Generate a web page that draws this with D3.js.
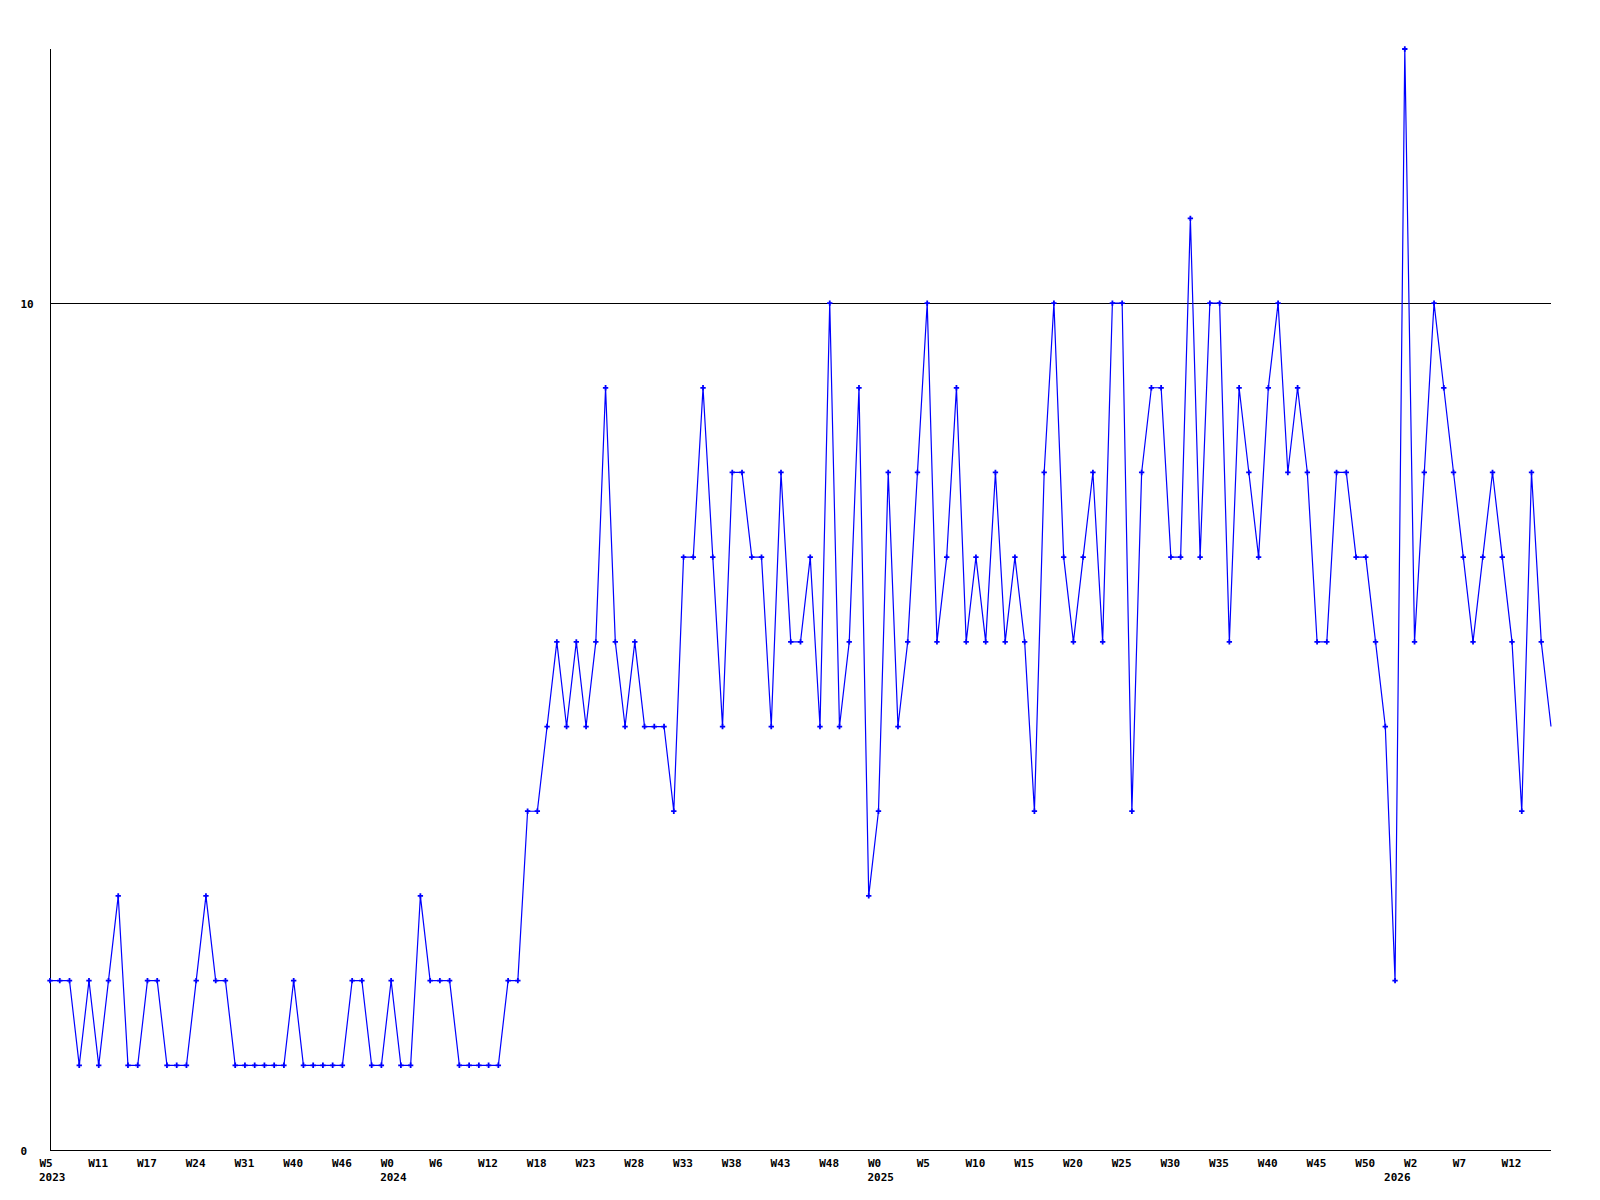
<!DOCTYPE html>
<html>
<head>
<meta charset="utf-8">
<script src="https://cdn.jsdelivr.net/npm/d3@7"></script>
<style>
  body { margin: 0; background: #ffffff; }
  text { font-family: "DejaVu Sans Mono", "Liberation Mono", monospace; font-weight: bold; font-size: 11px; fill: #000; }
</style>
</head>
<body>
<svg id="chart" width="1600" height="1200"></svg>
<script>
// ---- data ----
const values = [
  2,2,2,1,2,1,2,3,1,1,
  2,2,1,1,1,2,3,2,2,1,
  1,1,1,1,1,2,1,1,1,1,
  1,2,2,1,1,2,1,1,3,2,
  2,2,1,1,1,1,1,2,2,4,
  4,5,6,5,6,5,6,9,6,5,
  6,5,5,5,4,7,7,9,7,5,
  8,8,7,7,5,8,6,6,7,5,
  10,5,6,9,3,4,8,5,6,8,
  10,6,7,9,6,7,6,8,6,7,
  6,4,8,10,7,6,7,8,6,10,
  10,4,8,9,9,7,7,11,7,10,
  10,6,9,8,7,9,10,8,9,8,
  6,6,8,8,7,7,6,5,2,13,
  6,8,10,9,8,7,6,7,8,7,
  6,4,8,6,5
];
const tickIndices = [0,5,10,15,20,25,30,35,40,45,50,55,60,65,70,75,80,85,90,95,100,105,110,115,120,125,130,135,140,145,150];
const tickLabels = ["W5","W11","W17","W24","W31","W40","W46","W0","W6","W12","W18","W23","W28","W33","W38","W43","W48","W0","W5","W10","W15","W20","W25","W30","W35","W40","W45","W50","W2","W7","W12"];
const yearIndices = [0,35,85,138];
const yearLabels = ["2023","2024","2025","2026"];
const yTicks = [0,10];

// ---- layout ----
const svg = d3.select("#chart");
const plotLeft = 50, plotRight = 1551, plotTop = 49, plotBottom = 1150;

const x = d3.scaleLinear().domain([0, values.length - 1]).range([plotLeft, plotRight]);
const y = d3.scaleLinear().domain([0, 13]).range([plotBottom, plotTop]);

// gridline at 10
svg.append("g")
  .selectAll("line")
  .data(yTicks.filter(d => d > 0))
  .join("line")
  .attr("x1", plotLeft).attr("x2", plotRight)
  .attr("y1", d => Math.round(y(d)) + 0.5).attr("y2", d => Math.round(y(d)) + 0.5)
  .attr("stroke", "#000").attr("stroke-width", 1);

// x axis
const labelMap = new Map(tickIndices.map((d, i) => [d, tickLabels[i]]));
const xAxis = d3.axisBottom(x)
  .tickValues(tickIndices)
  .tickSize(0)
  .tickFormat(d => labelMap.get(d));
const gx = svg.append("g")
  .attr("transform", `translate(0,${plotBottom + 0.5})`)
  .call(xAxis);
gx.select(".domain").attr("stroke", "#000").attr("d", `M${plotLeft},0H${plotRight}`);
gx.selectAll(".tick text")
  .attr("text-anchor", "start")
  .attr("dx", -11)
  .attr("dy", 0)
  .attr("y", 16)
  .style("font-family", "DejaVu Sans Mono, monospace")
  .style("font-weight", "bold")
  .style("font-size", "11px")
  .attr("fill", "#000");

// year labels
svg.append("g")
  .selectAll("text")
  .data(yearIndices)
  .join("text")
  .attr("x", d => x(d) - 11)
  .attr("y", plotBottom + 31)
  .text((d, i) => yearLabels[i]);

// y axis
const yAxis = d3.axisLeft(y).tickValues(yTicks).tickSize(0).tickFormat(d3.format("d"));
const gy = svg.append("g")
  .attr("transform", `translate(${plotLeft + 0.5},0)`)
  .call(yAxis);
gy.select(".domain").attr("stroke", "#000").attr("d", `M0,${plotTop}V${plotBottom}`);
gy.selectAll(".tick text")
  .attr("text-anchor", "start")
  .attr("x", -30)
  .attr("dy", 4)
  .style("font-family", "DejaVu Sans Mono, monospace")
  .style("font-weight", "bold")
  .style("font-size", "11px")
  .attr("fill", "#000");

// data line
const line = d3.line()
  .x((d, i) => x(i))
  .y(d => y(d));
svg.append("path")
  .datum(values)
  .attr("d", line)
  .attr("fill", "none")
  .attr("stroke", "#0000ff")
  .attr("stroke-width", 1.2);

// markers
const sym = d3.symbol().type(d3.symbolCross).size(16);
svg.append("g")
  .selectAll("path")
  .data(values.slice(0, values.length - 1))
  .join("path")
  .attr("transform", (d, i) => `translate(${x(i)},${y(d)})`)
  .attr("d", sym)
  .attr("fill", "#0000ff");
</script>
</body>
</html>
